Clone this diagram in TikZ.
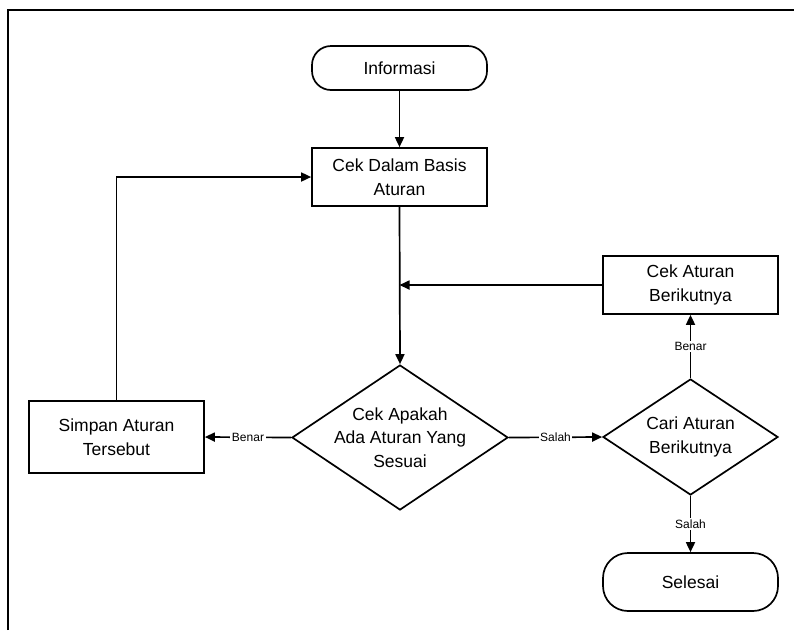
\documentclass[tikz,border=0pt]{standalone}
\usepackage{fontspec}
\setmainfont{Liberation Sans}
\usetikzlibrary{arrows.meta,shapes.geometric}
\begin{document}
\begin{tikzpicture}[x=1pt,y=-1pt,
  line width=1.7pt,
  mainfont/.style={font=\fontsize{17.5}{23.5}\selectfont},
  procbox/.style={draw, rectangle, minimum width=175pt, inner sep=0pt, align=center, mainfont},
  termbox/.style={draw, rectangle, minimum width=175pt, inner sep=0pt, align=center, mainfont},
  decbox/.style={draw, diamond, inner sep=0pt},
  dectext/.style={align=center, mainfont, inner sep=0pt},
  conn/.style={-{Triangle[length=10pt,width=9pt]}},
  lbl/.style={fill=white, inner sep=1.5pt, font=\fontsize{12}{14}\selectfont}
]
\useasboundingbox (0,0) rectangle (794,630);
% partial frame
\coordinate (fa) at (8,630);
\coordinate (fb) at (8,10);
\coordinate (fc) at (794,10);
\draw[line width=2.2pt] (fa) -- (fb) -- (fc);

\node[termbox, minimum height=44pt, rounded corners=19pt] (inf) at (399.5,68) {Informasi};
\node[procbox, minimum height=58pt] (cek) at (399.5,177) {Cek Dalam Basis\\Aturan};
\node[decbox, minimum width=216pt, minimum height=145pt] (d1) at (400,437.5) {};
\node[dectext] (d1t) at (400,437.5) {Cek Apakah\\Ada Aturan Yang\\Sesuai};
\node[procbox, minimum height=72pt] (simp) at (116.5,437) {Simpan Aturan\\Tersebut};
\node[decbox, minimum width=175pt, minimum height=116pt] (d2) at (690.5,437) {};
\node[dectext] (d2t) at (690.5,437) {Cari Aturan\\Berikutnya};
\node[procbox, minimum height=58pt] (nxt) at (690.5,285) {Cek Aturan\\Berikutnya};
\node[termbox, minimum height=58pt, rounded corners=25pt] (sel) at (690.5,582) {Selesai};

\coordinate (j) at (cek.south |- nxt.west);

\draw[conn] (inf.south) -- (cek.north);
\draw[conn] (cek.south) -- (d1.north);
\draw[conn] (nxt.west) -- (j);
\draw[conn] (d1.west) -- node[lbl] {Benar} (simp.east);
\draw[conn] (simp.north) |- (cek.west);
\draw[conn] (d1.east) -- node[lbl] {Salah} (d2.west);
\draw[conn] (d2.north) -- node[lbl] {Benar} (nxt.south);
\draw[conn] (d2.south) -- node[lbl] {Salah} (sel.north);
\end{tikzpicture}
\end{document}
